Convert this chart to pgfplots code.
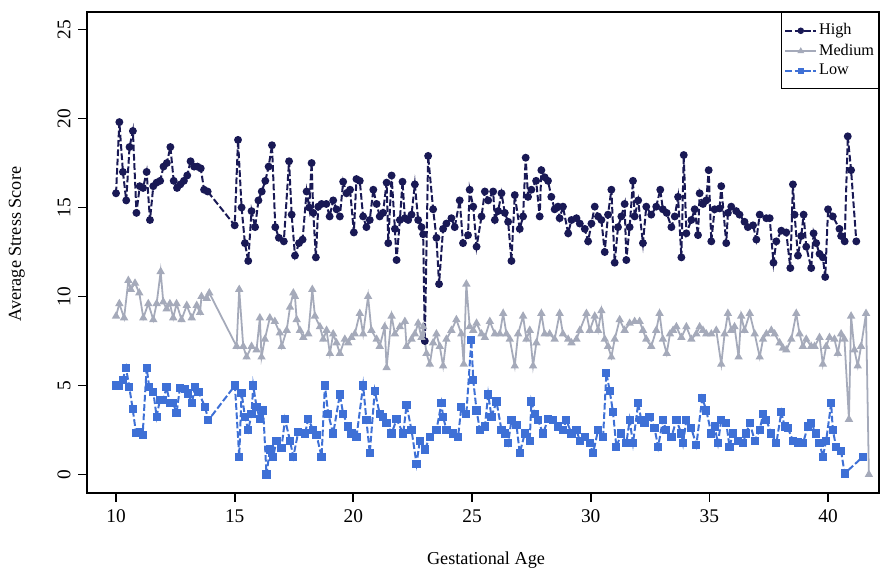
\documentclass[border=0pt]{standalone}
\usepackage{fontspec}
\setmainfont{Liberation Serif}
\usepackage{pgfplots}
\pgfplotsset{compat=1.18}
\definecolor{highc}{RGB}{25,25,85}
\definecolor{medc}{RGB}{165,170,186}
\definecolor{lowc}{RGB}{62,112,214}

\begin{document}
\begin{tikzpicture}
\path (0,0) rectangle (396pt,256.05pt);
\begin{axis}[
  at={(39.29pt,34.34pt)}, anchor=south west,
  scale only axis, width=356.3pt, height=216.18pt,
  xmin=8.79, xmax=42.15, ymin=-1.02, ymax=25.97,
  xtick={10,15,...,40}, ytick={0,5,...,25},
  xtick pos=left, ytick pos=left,
  tick align=outside, major tick length=4pt,
  axis line style={line width=0.8pt},
  every tick/.style={black, line width=0.8pt},
  ticklabel style={font=\fontsize{8.7}{10}\selectfont},
  /pgf/number format/assume math mode=true,
  yticklabel style={rotate=90, anchor=south},
  legend style={at={(1,1)}, anchor=north east, draw=black, line width=0.5pt,
    font=\fontsize{7.3}{8}\selectfont, inner xsep=1.2pt, inner ysep=4pt,
    row sep=1pt, nodes={inner sep=0.8pt},
    /tikz/every even column/.append style={column sep=3pt}},
  legend cell align=left,
  legend image code/.code={\draw[mark repeat=2,mark phase=2,mark size=1pt]
    plot coordinates {(0pt,0pt) (7pt,0pt) (14pt,0pt)};},
]
% High
\addplot[highc, line width=0.9pt, dash pattern=on 3pt off 1.2pt, mark=*, mark size=1.3pt, mark options={solid}] coordinates {
(10.00,15.8)(10.14,19.8)(10.29,17.0)(10.43,15.4)(10.57,18.4)(10.71,19.3)(10.86,14.7)(11.00,16.2)(11.14,16.1)(11.29,17.0)(11.43,14.3)(11.57,16.2)(11.71,16.4)(11.86,16.5)(12.00,17.3)(12.14,17.5)(12.29,18.4)(12.43,16.5)(12.57,16.1)(12.71,16.3)(12.86,16.5)(13.00,16.8)(13.14,17.6)(13.29,17.3)(13.43,17.3)(13.57,17.2)(13.71,16.0)(13.86,15.9)
(15.00,14.0)(15.14,18.8)(15.29,15.0)(15.43,13.0)(15.57,12.0)(15.71,14.8)(15.86,13.9)(16.00,15.4)(16.14,15.9)(16.29,16.5)(16.43,17.3)(16.57,18.5)(16.71,13.9)(16.86,13.3)
(17.07,13.1)(17.29,17.6)(17.40,14.6)(17.54,12.3)(17.71,13.0)(17.86,13.2)(18.03,15.9)(18.14,15.0)(18.24,17.5)(18.31,14.7)(18.42,12.2)(18.52,15.05)(18.66,15.2)(18.86,15.2)(19.00,14.5)(19.15,15.4)(19.29,14.9)(19.43,14.5)(19.57,16.45)(19.71,15.8)(19.86,16.0)(20.02,13.6)(20.13,16.6)(20.27,16.5)(20.41,14.5)(20.55,13.9)(20.69,14.3)(20.84,16.0)(20.98,15.2)(21.11,14.5)(21.25,14.7)(21.40,16.4)(21.47,13.0)(21.61,16.8)(21.75,13.8)(21.82,12.05)(21.96,14.3)(22.07,16.45)(22.17,14.4)(22.31,14.3)(22.45,14.6)(22.59,16.3)(22.73,14.3)(22.87,13.9)(22.94,13.5)(23.01,7.5)(23.15,17.9)(23.36,14.9)(23.50,13.3)(23.61,10.7)(23.78,13.8)(23.92,14.1)(24.13,14.4)(24.27,13.9)(24.48,15.4)(24.62,13.0)(24.83,13.45)(24.90,16.0)
(25.05,15.05)(25.19,12.8)(25.40,14.5)(25.54,15.9)(25.68,15.4)(25.89,15.9)(25.96,14.3)(26.10,14.8)(26.24,15.8)(26.38,14.7)(26.52,14.2)(26.66,12.0)(26.80,15.7)(27.01,13.8)(27.15,14.5)(27.26,17.8)(27.36,15.6)(27.50,16.0)(27.70,16.5)(27.85,14.5)(27.92,17.1)(28.06,16.7)(28.20,16.5)(28.34,15.6)(28.48,14.9)(28.62,15.05)(28.69,14.4)(28.83,15.05)(29.05,13.55)(29.19,14.3)(29.40,14.4)(29.54,14.1)(29.75,13.8)(29.89,13.1)(30.03,14.1)(30.17,15.05)(30.31,14.5)(30.45,14.3)(30.59,12.5)(30.73,14.6)(30.87,16.0)(31.01,11.9)(31.15,13.9)(31.29,14.5)(31.43,15.2)(31.50,12.05)(31.64,13.9)(31.78,16.5)(31.85,14.5)(32.00,15.4)(32.20,13.0)(32.34,15.05)(32.55,14.6)(32.76,15.05)(32.93,16.0)
(33.04,14.9)(33.20,14.7)(33.40,13.9)(33.54,14.5)(33.68,15.6)(33.82,12.2)(33.92,17.95)(34.03,13.55)(34.24,14.3)(34.38,14.9)(34.52,13.45)(34.59,15.8)(34.73,15.2)(34.87,15.4)(34.97,17.1)(35.08,13.1)(35.22,14.9)(35.43,14.95)(35.50,16.2)(35.71,13.0)(35.78,14.7)(35.92,15.05)(36.13,14.8)(36.27,14.6)(36.48,14.2)(36.62,13.9)(36.84,14.0)(36.98,13.2)(37.12,14.6)(37.40,14.4)(37.54,14.4)(37.70,11.9)(37.82,13.1)(38.03,13.7)(38.24,13.6)(38.41,11.6)(38.52,16.3)(38.59,14.6)(38.73,12.3)(38.87,13.4)(38.97,14.6)(39.08,12.8)(39.29,11.6)(39.39,13.55)(39.50,13.0)(39.64,12.4)(39.78,12.2)(39.88,11.1)(40.00,14.9)(40.20,14.5)(40.48,13.8)(40.55,13.4)(40.70,13.1)(40.83,19.0)(40.97,17.1)(41.19,13.1)
};
\addlegendentry{High}
% Medium
\addplot[medc, line width=0.8pt, mark=triangle*, mark size=1.4pt] coordinates {
(10.00,8.9)(10.14,9.6)(10.34,8.8)(10.52,10.9)(10.62,10.4)(10.80,10.75)(10.98,10.2)(11.15,8.8)(11.36,9.6)(11.57,8.7)(11.71,9.6)(11.88,11.4)(11.99,9.7)(12.13,9.3)(12.27,9.6)(12.41,8.8)(12.55,9.6)(12.76,8.7)(12.98,9.5)(13.19,8.8)(13.40,9.5)(13.54,9.1)(13.60,10.0)(13.82,9.9)(13.93,10.2)
(15.08,7.2)(15.19,10.4)(15.36,7.2)(15.50,6.6)(15.71,7.2)(15.92,7.0)(16.06,8.8)(16.13,6.6)(16.27,7.6)(16.48,8.8)(16.69,8.6)(16.90,7.95)(16.98,7.2)
(17.19,8.1)(17.33,9.4)(17.47,10.2)(17.54,10.0)(17.61,8.7)(17.75,8.1)(17.89,7.7)(18.10,7.9)(18.27,10.4)(18.38,8.9)(18.59,8.3)(18.73,7.6)(18.87,8.1)(19.01,6.8)(19.15,7.9)(19.29,7.4)(19.43,6.8)(19.64,7.6)(19.78,7.4)(19.92,7.7)(20.06,7.9)(20.27,9.05)(20.41,7.9)(20.62,10.0)(20.76,8.1)(20.98,7.6)(21.11,7.2)(21.32,8.3)(21.40,6.0)(21.61,8.9)(21.75,7.9)(21.96,8.3)(22.17,8.6)(22.24,7.2)(22.45,7.6)(22.59,7.9)(22.73,8.5)(22.87,7.7)(22.94,8.3)(23.08,6.8)(23.22,6.2)(23.36,7.4)(23.50,7.9)(23.64,7.2)(23.78,6.1)(23.92,7.6)(24.13,8.1)(24.34,8.7)(24.55,7.9)(24.65,6.2)(24.76,10.7)(24.90,8.3)
(25.05,8.1)(25.19,8.5)(25.40,7.9)(25.54,7.7)(25.75,8.6)(25.96,7.9)(26.17,7.9)(26.31,9.05)(26.45,7.9)(26.59,7.6)(26.80,6.1)(26.94,7.9)(27.15,8.9)(27.29,7.6)(27.43,8.1)(27.57,6.1)(27.71,7.4)(27.92,9.05)(28.06,7.9)(28.27,7.9)(28.48,7.6)(28.69,9.05)(28.83,7.9)(29.05,7.6)(29.19,7.4)(29.40,7.6)(29.54,8.1)(29.82,9.05)(29.96,8.1)(30.17,8.9)(30.31,8.1)(30.45,9.2)(30.59,7.6)(30.73,7.2)(30.87,6.6)(31.01,7.6)(31.22,8.7)(31.43,8.1)(31.64,8.5)(31.85,8.6)(32.06,8.6)(32.20,8.1)(32.34,7.6)(32.55,7.2)(32.76,8.1)(32.90,9.05)
(33.04,7.6)(33.20,6.8)(33.34,7.9)(33.47,8.1)(33.61,8.3)(33.82,7.7)(34.03,8.3)(34.24,7.6)(34.45,7.9)(34.59,8.3)(34.73,8.1)(34.87,7.9)(35.08,7.9)(35.29,8.1)(35.50,6.2)(35.64,7.9)(35.78,9.05)(35.92,8.1)(36.06,8.3)(36.23,6.6)(36.34,8.9)(36.48,8.1)(36.70,9.05)(36.91,7.9)(37.12,6.6)(37.26,7.6)(37.40,7.9)(37.61,8.1)(37.75,7.9)(37.96,7.4)(38.10,7.1)(38.24,7.0)(38.45,7.6)(38.66,9.05)(38.80,7.9)(38.94,7.2)(39.08,7.6)(39.29,7.2)(39.43,7.2)(39.64,7.7)(39.78,6.2)(39.92,7.2)(40.06,7.7)(40.27,7.6)(40.41,6.8)(40.55,7.9)(40.69,7.6)(40.88,3.1)(40.97,8.9)(41.11,7.0)(41.25,6.1)(41.39,7.2)(41.60,9.05)(41.72,0.0)
};
\addlegendentry{Medium}
% Low
\addplot[lowc, line width=0.9pt, dash pattern=on 3pt off 1.2pt, mark=square*, mark size=1.4pt, mark options={solid}] coordinates {
(10.00,5.0)(10.14,5.0)(10.28,5.3)(10.42,6.0)(10.56,4.9)(10.70,3.7)(10.84,2.35)(11.01,2.4)(11.12,2.2)(11.29,6.0)(11.40,4.9)(11.57,4.65)(11.71,3.25)(11.85,4.2)(11.99,4.2)(12.13,4.9)(12.27,4.0)(12.41,4.0)(12.55,3.45)(12.69,4.85)(12.90,4.8)(13.04,4.55)(13.19,4.0)(13.33,4.9)(13.47,4.65)(13.75,3.8)(13.89,3.05)
(15.01,5.0)(15.19,1.0)(15.29,4.6)(15.43,3.25)(15.57,2.5)(15.71,3.4)(15.78,5.0)(15.92,3.8)(16.06,3.1)(16.20,3.6)(16.34,0.0)(16.48,1.4)(16.62,1.0)(16.76,1.9)(16.97,1.5)(17.12,3.1)(17.33,1.9)(17.47,1.0)(17.68,2.4)(17.96,2.3)(18.10,3.1)(18.31,2.5)(18.45,2.2)(18.66,1.0)(18.80,5.0)(18.94,3.4)(19.15,2.3)(19.43,4.5)(19.57,3.4)(19.78,2.7)(19.92,2.3)(20.13,2.1)(20.41,5.0)(20.55,3.06)(20.69,1.2)(20.90,4.7)(21.11,3.4)(21.25,3.25)(21.40,2.9)(21.61,2.3)(21.82,3.1)(22.10,2.3)(22.24,3.9)(22.45,2.5)(22.66,0.6)(22.80,1.9)(23.01,1.4)(23.22,2.1)(23.50,2.5)(23.71,4.0)(23.78,3.25)(23.92,2.5)(24.20,2.3)(24.41,2.1)(24.55,3.8)(24.76,3.4)(24.97,7.55)
(25.05,5.3)(25.19,3.6)(25.33,2.5)(25.54,2.7)(25.68,4.5)(25.82,3.25)(26.03,4.1)(26.24,2.5)(26.38,2.3)(26.52,1.75)(26.66,3.06)(26.87,2.8)(27.01,1.2)(27.22,2.3)(27.43,1.9)(27.50,4.1)(27.64,3.4)(27.78,3.06)(27.99,2.3)(28.20,3.1)(28.41,3.06)(28.62,2.7)(28.83,2.5)(28.97,3.06)(29.19,2.3)(29.40,2.5)(29.54,1.9)(29.75,2.1)(29.96,1.75)(30.10,1.2)(30.31,2.5)(30.52,2.1)(30.66,5.7)(30.80,4.7)(30.94,3.5)(31.08,1.55)(31.29,2.3)(31.50,1.75)(31.64,3.06)(31.78,1.75)(32.00,4.0)(32.13,3.06)(32.27,2.9)(32.48,3.25)(32.69,2.6)(32.84,1.55)
(33.04,3.06)(33.18,2.5)(33.40,2.1)(33.61,3.06)(33.82,2.3)(33.89,1.75)(34.03,3.06)(34.24,2.6)(34.45,1.65)(34.70,4.3)(34.87,3.6)(35.08,2.3)(35.22,2.7)(35.36,1.75)(35.50,3.06)(35.71,2.9)(35.85,1.55)(35.99,2.3)(36.20,1.9)(36.41,1.75)(36.55,2.3)(36.70,2.9)(36.91,1.9)(37.12,2.5)(37.26,3.4)(37.40,3.06)(37.61,2.3)(37.82,1.75)(38.03,3.5)(38.17,2.7)(38.31,2.6)(38.52,1.9)(38.73,1.8)(38.94,1.75)(39.15,2.7)(39.29,2.9)(39.50,2.3)(39.64,1.75)(39.78,1.0)(39.92,1.9)(40.13,4.0)(40.20,2.5)(40.34,1.55)(40.55,1.3)(40.70,0.06)(41.47,1.0)
};
\addlegendentry{Low}
\end{axis}
\node[anchor=base, font=\fontsize{8.2}{10}\selectfont] at (218.7pt,1.8pt) {Gestational Age};
\node[anchor=base, rotate=90, font=\fontsize{8.2}{10}\selectfont] at (9.45pt,146.25pt) {Average Stress Score};
\end{tikzpicture}
\end{document}
